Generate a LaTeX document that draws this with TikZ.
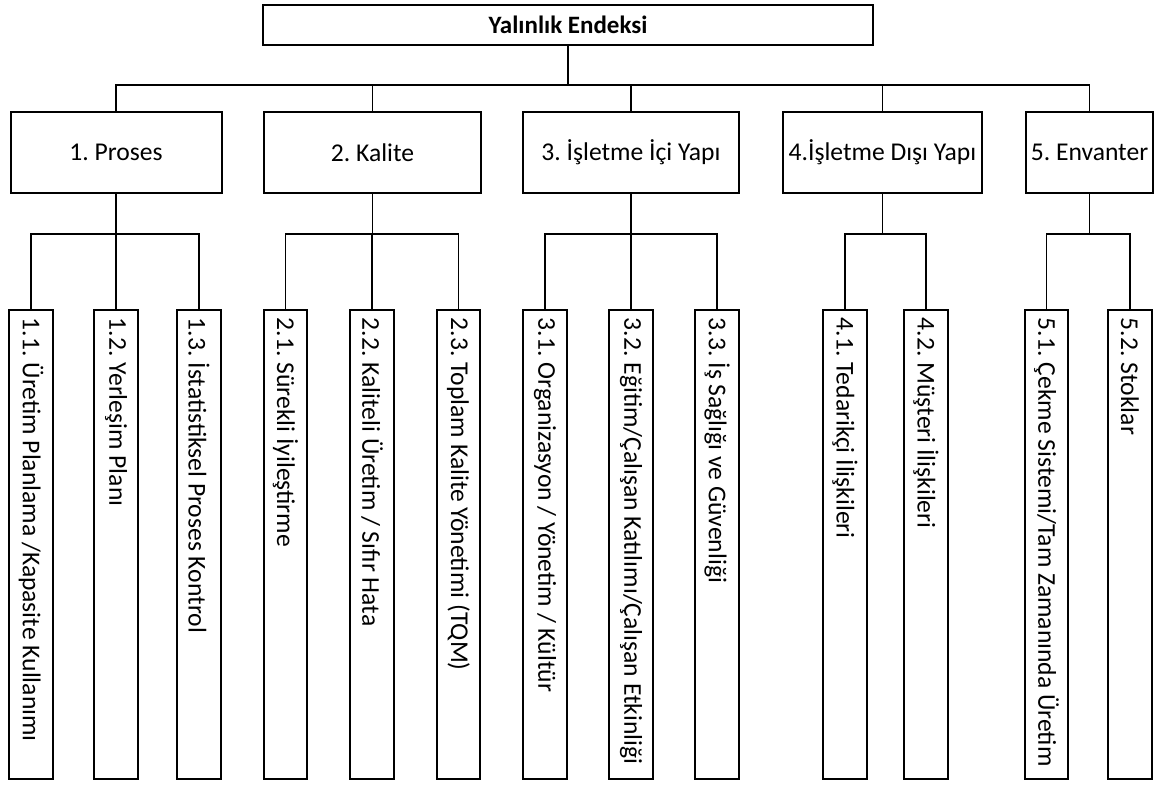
\documentclass[tikz,border=0pt]{standalone}
\usepackage{fontspec}
\setmainfont{Carlito}
\usepackage{tikz}
\frenchspacing

\begin{document}
\begin{tikzpicture}[x=.5pt,y=-.5pt,font=\fontsize{12.8}{15}\selectfont,
    box/.style={draw,line width=1pt,inner sep=0pt,minimum height=40.5pt},
    sub/.style={draw,line width=1pt,rotate=-90,minimum width=234.5pt,minimum height=21.75pt,
      inner xsep=4pt,inner ysep=0pt,text width=226.5pt,align=flush left},
    link/.style={line width=.6pt}]
  \useasboundingbox (0,0) rectangle (1155,785);

  % top
  \node[box,minimum width=305pt,minimum height=20pt,font=\fontsize{12.5}{15}\selectfont\bfseries] (top) at (568,25) {Yalınlık Endeksi};

  % main groups
  \node[box,minimum width=105.5pt] (k1) at (116,152.5) {1. Proses};
  \node[box,minimum width=108.5pt] (k2) at (372.5,152.5) {2. Kalite};
  \node[box,minimum width=108pt] (k3) at (631,152.5) {3. İşletme İçi Yapı};
  \node[box,minimum width=99.5pt] (k4) at (882.5,152.5) {4.İşletme Dışı Yapı};
  \node[box,minimum width=63.5pt] (k5) at (1089.5,152.5) {5. Envanter};

  % sub items
  \node[sub] (s11) at (31,544.5) {1.1. Üretim Planlama /Kapasite Kullanımı};
  \node[sub] (s12) at (116,544.5) {1.2. Yerleşim Planı};
  \node[sub] (s13) at (199,544.5) {1.3. İstatistiksel Proses Kontrol};
  \node[sub] (s21) at (285.5,544.5) {2.1. Sürekli İyileştirme};
  \node[sub] (s22) at (372,544.5) {2.2. Kaliteli Üretim / Sıfır Hata};
  \node[sub] (s23) at (458.5,544.5) {2.3. Toplam Kalite Yönetimi (TQM)};
  \node[sub] (s31) at (545,544.5) {3.1. Organizasyon / Yönetim / Kültür};
  \node[sub] (s32) at (631,544.5) {3.2. Eğitim/Çalışan Katılımı/Çalışan Etkinliği};
  \node[sub] (s33) at (717,544.5) {3.3. İş Sağlığı ve Güvenliği};
  \node[sub] (s41) at (845,544.5) {4.1. Tedarikçi İlişkileri};
  \node[sub] (s42) at (926,544.5) {4.2. Müşteri İlişkileri};
  \node[sub] (s51) at (1046.5,544.5) {5.1. Çekme Sistemi/Tam Zamanında Üretim};
  \node[sub] (s52) at (1130,544.5) {5.2. Stoklar};

  % connectors
  \draw[link] (top.south) -- ++(0,39) coordinate (bar);
  \draw[link] (k1.north) -- (k1.north |- bar) -- (k5.north |- bar) -- (k5.north);
  \foreach \k in {2,3,4}
    \draw[link] (k\k.north) -- (k\k.north |- bar);
  \foreach \k/\a/\b in {1/s11/s13,2/s21/s23,3/s31/s33,4/s41/s42,5/s51/s52}{
    \draw[link] (k\k.south) -- ++(0,40) coordinate (j\k);
    \draw[link] (\a.west) -- (\a.west |- j\k) -- (\b.west |- j\k) -- (\b.west);
  }
  \foreach \k/\m in {1/s12,2/s22,3/s32}
    \draw[link] (\m.west) -- (\m.west |- j\k);
\end{tikzpicture}
\end{document}
